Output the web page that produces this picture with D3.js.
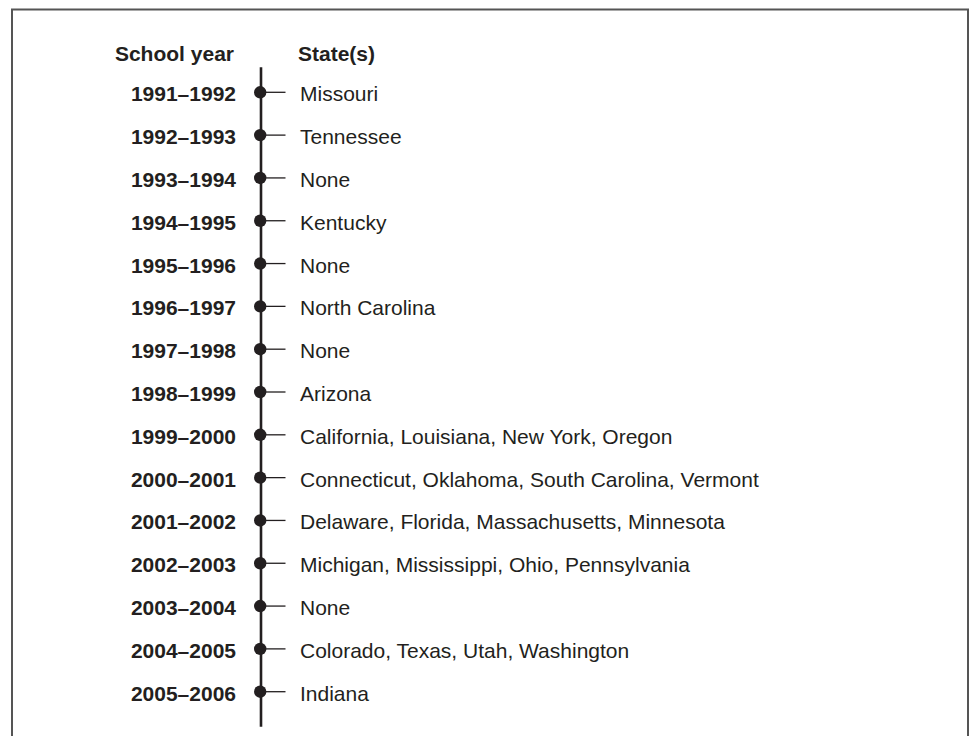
<!DOCTYPE html>
<html>
<head>
<meta charset="utf-8">
<script src="https://cdn.jsdelivr.net/npm/d3@7"></script>
<style>
  html, body { margin: 0; padding: 0; background: #fff; }
  svg { display: block; }
  text { font-family: "Liberation Sans", Arial, Helvetica, sans-serif; fill: #231f20; }
</style>
</head>
<body>
<div id="chart"></div>
<script>
// School years (left column)
const schoolYears = [
  '1991\u20131992', '1992\u20131993', '1993\u20131994', '1994\u20131995',
  '1995\u20131996', '1996\u20131997', '1997\u20131998', '1998\u20131999',
  '1999\u20132000', '2000\u20132001', '2001\u20132002', '2002\u20132003',
  '2003\u20132004', '2004\u20132005', '2005\u20132006'
];

// States for each school year (right column)
const states = [
  'Missouri',
  'Tennessee',
  'None',
  'Kentucky',
  'None',
  'North Carolina',
  'None',
  'Arizona',
  'California, Louisiana, New York, Oregon',
  'Connecticut, Oklahoma, South Carolina, Vermont',
  'Delaware, Florida, Massachusetts, Minnesota',
  'Michigan, Mississippi, Ohio, Pennsylvania',
  'None',
  'Colorado, Texas, Utah, Washington',
  'Indiana'
];

const headers = ['School year', 'State(s)'];

const width = 972;
const height = 736;

const svg = d3.select('#chart')
  .append('svg')
  .attr('width', width)
  .attr('height', height);

// Frame
svg.append('rect')
  .attr('x', 12)
  .attr('y', 9.5)
  .attr('width', 956)
  .attr('height', 740)
  .attr('fill', 'none')
  .attr('stroke', '#555')
  .attr('stroke-width', 2);

const rows = schoolYears.map((year, i) => ({ year, states: states[i] }));

// Vertical position scale
const y = d3.scalePoint()
  .domain(schoolYears)
  .range([92.3, 691.7]);

const axisX = 261;
const fontSize = 21;

// Column headers
svg.append('text')
  .attr('x', 234)
  .attr('y', 60.7)
  .attr('text-anchor', 'end')
  .attr('font-size', fontSize)
  .attr('font-weight', 'bold')
  .text(headers[0]);

svg.append('text')
  .attr('x', 298)
  .attr('y', 60.7)
  .attr('font-size', fontSize)
  .attr('font-weight', 'bold')
  .text(headers[1]);

// Timeline spine
svg.append('line')
  .attr('x1', axisX)
  .attr('x2', axisX)
  .attr('y1', 67.3)
  .attr('y2', 726.7)
  .attr('stroke', '#231f20')
  .attr('stroke-width', 2.6);

const row = svg.selectAll('g.row')
  .data(rows)
  .join('g')
  .attr('class', 'row')
  .attr('transform', d => `translate(0, ${y(d.year)})`);

// Ticks
row.append('line')
  .attr('x1', axisX)
  .attr('x2', 285.5)
  .attr('stroke', '#231f20')
  .attr('stroke-width', 1.3);

// Dots
row.append('circle')
  .attr('cx', axisX - 0.8)
  .attr('r', 6.2)
  .attr('fill', '#231f20');

// Year labels
row.append('text')
  .attr('x', 236)
  .attr('y', 9)
  .attr('text-anchor', 'end')
  .attr('font-size', fontSize)
  .attr('font-weight', 'bold')
  .text(d => d.year);

// State labels
row.append('text')
  .attr('x', 300)
  .attr('y', 9)
  .attr('font-size', fontSize)
  .text(d => d.states);
</script>
</body>
</html>
